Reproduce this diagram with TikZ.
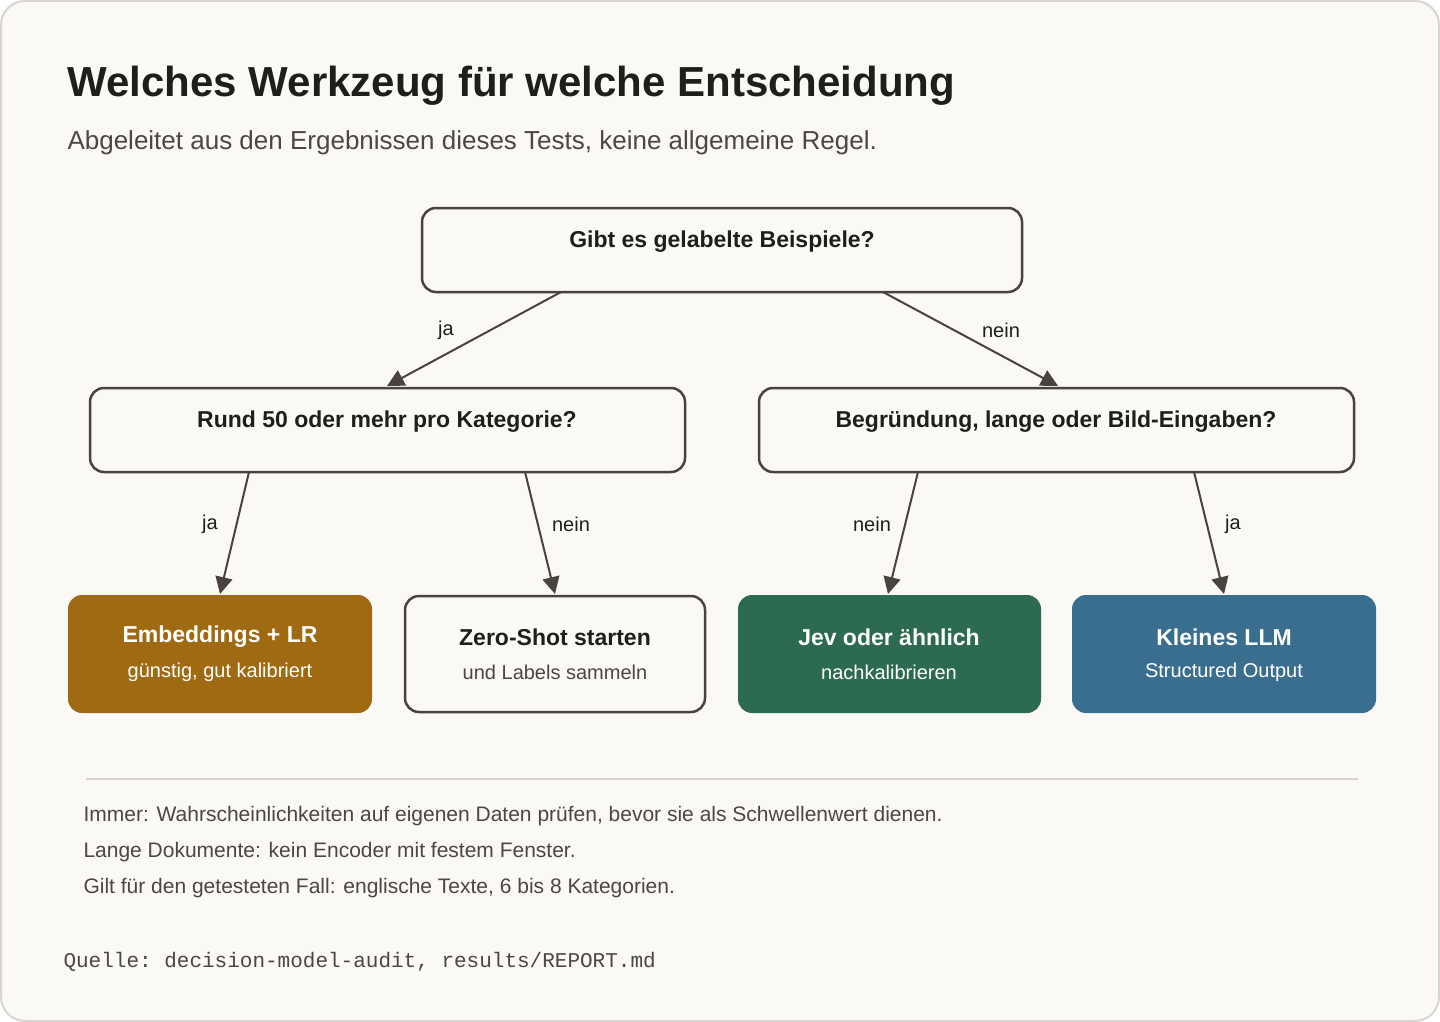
\documentclass[tikz,border=0pt]{standalone}
\usepackage{fontspec}
\setmainfont{Liberation Sans}
\setmonofont{Liberation Mono}
\usetikzlibrary{arrows.meta}
\definecolor{bg}{HTML}{FAF9F5}
\definecolor{frame}{HTML}{D8D5CE}
\definecolor{ink}{HTML}{1F1E1C}
\definecolor{sub}{HTML}{4A4744}
\definecolor{edge}{HTML}{4A423C}
\definecolor{gold}{HTML}{A06A12}
\definecolor{green}{HTML}{2D6B50}
\definecolor{blue}{HTML}{3A6E8F}
\begin{document}
\begin{tikzpicture}[x=1pt,y=-1pt,
 q/.style={draw=edge,line width=2.5pt,rounded corners=14pt,fill=bg},
 leaf/.style={rounded corners=14pt},
 arr/.style={draw=edge,line width=2pt,-{Triangle[length=17pt,width=17pt]}},
 lab/.style={font=\fontsize{20}{24}\selectfont,text=ink},
 qt/.style={font=\bfseries\fontsize{23}{28}\selectfont,text=ink},
 foot/.style={anchor=west,font=\fontsize{21}{25}\selectfont,text=sub}]
\useasboundingbox (0,0) rectangle (1440,1022);
\draw[fill=bg,draw=frame,line width=2pt,rounded corners=24pt] (1,1) rectangle (1439,1021);
\node[anchor=west,font=\bfseries\fontsize{42}{48}\selectfont,text=ink] (title) at (64,86) {Welches Werkzeug für welche Entscheidung};
\node[anchor=west,font=\fontsize{26}{30}\selectfont,text=sub] (subt) at (64,143) {Abgeleitet aus den Ergebnissen dieses Tests, keine allgemeine Regel.};
% question boxes
\draw[q] (422,208) rectangle (1022,292); \node[qt] (top) at (722,242) {Gibt es gelabelte Beispiele?};
\draw[q] (90,388) rectangle (685,472); \node[qt] (ql) at (387,422) {Rund 50 oder mehr pro Kategorie?};
\draw[q] (759,388) rectangle (1354,472); \node[qt] (qr) at (1056,422) {Begründung, lange oder Bild-Eingaben?};
% leaves
\fill[leaf,gold] (68,595) rectangle (372,713);
\draw[q] (405,596) rectangle (705,712);
\fill[leaf,green] (738,595) rectangle (1041,713);
\fill[leaf,blue] (1072,595) rectangle (1376,713);
\node[qt,text=white] (l1) at (220,637) {Embeddings + LR};
\node[font=\fontsize{20}{24}\selectfont,text=white] (l1s) at (220,672) {günstig, gut kalibriert};
\node[qt] (l2) at (555,637) {Zero-Shot starten};
\node[font=\fontsize{20}{24}\selectfont,text=sub] (l2s) at (555,672) {und Labels sammeln};
\node[qt,text=white] (l3) at (889,637) {Jev oder ähnlich};
\node[font=\fontsize{20}{24}\selectfont,text=white] (l3s) at (889,672) {nachkalibrieren};
\node[qt,text=white] (l4) at (1224,637) {Kleines LLM};
\node[font=\fontsize{20}{24}\selectfont,text=white] (l4s) at (1224,672) {Structured Output};
% connector points
\coordinate (a1) at (561,292); \coordinate (b1) at (387,386);
\coordinate (a2) at (883,292); \coordinate (b2) at (1058,386);
\coordinate (a3) at (249,472); \coordinate (b3) at (220,594);
\coordinate (a4) at (525,472); \coordinate (b4) at (555,594);
\coordinate (a5) at (918,472); \coordinate (b5) at (888,594);
\coordinate (a6) at (1194,472); \coordinate (b6) at (1224,594);
\draw[arr] (a1) -- (b1); \draw[arr] (a2) -- (b2);
\draw[arr] (a3) -- (b3); \draw[arr] (a4) -- (b4);
\draw[arr] (a5) -- (b5); \draw[arr] (a6) -- (b6);
\node[lab] (j1) at (446,330) {ja}; \node[lab] (n1) at (1001,330) {nein};
\node[lab] (j2) at (210,524) {ja}; \node[lab] (n2) at (571,524) {nein};
\node[lab] (n3) at (872,524) {nein}; \node[lab] (j3) at (1233,524) {ja};
% footer
\draw[frame,line width=1.5pt] (86,779) -- (1358,779);
\node[foot] (f1) at (80,816) {Immer: Wahrscheinlichkeiten auf eigenen Daten prüfen, bevor sie als Schwellenwert dienen.};
\node[foot] (f2) at (80,852) {Lange Dokumente: kein Encoder mit festem Fenster.};
\node[foot] (f3) at (80,888) {Gilt für den getesteten Fall: englische Texte, 6 bis 8 Kategorien.};
\node[anchor=west,font=\ttfamily\fontsize{21}{25}\selectfont,text=sub] (src) at (60,962) {Quelle: decision-model-audit, results/REPORT.md};
\end{tikzpicture}
\end{document}
